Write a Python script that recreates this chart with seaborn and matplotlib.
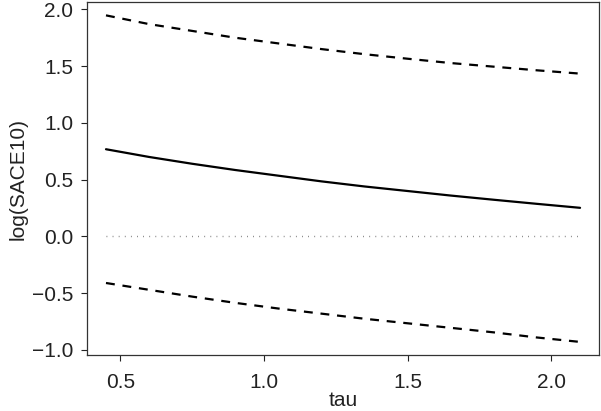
#!/usr/bin/env python3
"""Sensitivity of log(SACE10) to tau, with pointwise bounds."""

import matplotlib
matplotlib.use("Agg")
import matplotlib.pyplot as plt
import numpy as np
import seaborn as sns

# values
TAU = [0.45, 0.60, 0.75, 0.90, 1.05, 1.20, 1.35, 1.50, 1.65, 1.80, 1.95, 2.10]
EST = [0.768, 0.700, 0.640, 0.585, 0.535, 0.485, 0.440, 0.400, 0.360, 0.323, 0.287, 0.252]
UPPER = [1.947, 1.870, 1.810, 1.750, 1.700, 1.650, 1.605, 1.565, 1.527, 1.495, 1.463, 1.434]
LOWER = [-0.410, -0.470, -0.530, -0.585, -0.635, -0.680, -0.725, -0.765, -0.805, -0.845, -0.890, -0.929]
ZERO = [0.0] * len(TAU)

X_TICKS = [0.5, 1.0, 1.5, 2.0]
Y_TICKS = [-1.0, -0.5, 0.0, 0.5, 1.0, 1.5, 2.0]


def main():
    sns.set_theme(style="ticks")
    plt.rcParams["font.family"] = ["Liberation Sans", "DejaVu Sans"]
    plt.rcParams["text.color"] = "#222222"
    plt.rcParams["axes.labelcolor"] = "#222222"
    plt.rcParams["xtick.color"] = "#222222"
    plt.rcParams["ytick.color"] = "#222222"

    fig = plt.figure(figsize=(6.01, 4.11), dpi=100)
    ax = fig.add_axes([0.1448, 0.1363, 0.8519, 0.8581])

    sns.lineplot(x=TAU, y=ZERO, ax=ax, color="#777777", lw=1.0,
                 linestyle=(0, (0.6, 3.8)), errorbar=None)
    sns.lineplot(x=TAU, y=EST, ax=ax, color="black", lw=1.6, errorbar=None)
    sns.lineplot(x=TAU, y=UPPER, ax=ax, color="black", lw=1.6,
                 linestyle=(0, (4, 3.5)), errorbar=None)
    sns.lineplot(x=TAU, y=LOWER, ax=ax, color="black", lw=1.6,
                 linestyle=(0, (4, 3.5)), errorbar=None)

    # R-style 4% padding
    xr = TAU[-1] - TAU[0]
    ax.set_xlim(TAU[0] - 0.04 * xr, TAU[-1] + 0.04 * xr)
    yr = max(UPPER) - min(LOWER)
    ax.set_ylim(min(LOWER) - 0.04 * yr, max(UPPER) + 0.04 * yr)

    ax.set_xticks(X_TICKS)
    ax.set_xticklabels([f"{v:.1f}" for v in X_TICKS])
    ax.set_yticks(Y_TICKS)
    ax.set_yticklabels([f"{v:.1f}".replace("-", "\u2212") for v in Y_TICKS])
    ax.tick_params(axis="both", labelsize=15, length=4, width=0.8,
                   direction="out")
    ax.tick_params(axis="x", pad=9)
    ax.tick_params(axis="y", pad=6)

    for side in ["top", "right", "bottom", "left"]:
        ax.spines[side].set_visible(True)
        ax.spines[side].set_color("#333333")
        ax.spines[side].set_linewidth(0.9)

    ax.set_xlabel("tau", fontsize=15, labelpad=-1)
    ax.set_ylabel("log(SACE10)", fontsize=15, labelpad=3)

    fig.savefig("out.png", dpi=100)
    plt.close(fig)


if __name__ == "__main__":
    main()
